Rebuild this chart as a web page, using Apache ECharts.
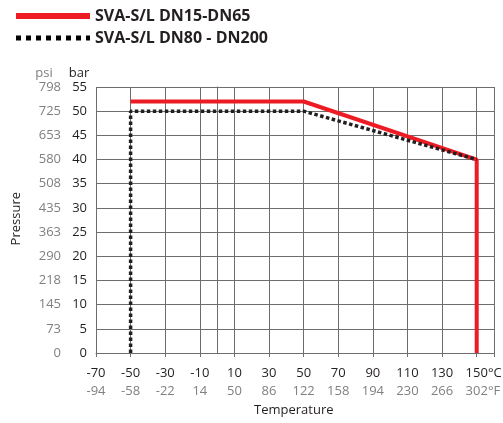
<!DOCTYPE html>
<html>
<head>
<meta charset="utf-8">
<script src="https://cdn.jsdelivr.net/npm/echarts@6/dist/echarts.min.js"></script>
<style>
html,body{margin:0;padding:0;background:#fff;}
#chart{width:503px;height:423px;}
</style>
</head>
<body>
<div id="chart"></div>
<script>
// pressure / temperature rating chart

var seriesNames = ['SVA-S/L DN15-DN65', 'SVA-S/L DN80 - DN200'];

// red line: DN15-DN65
var redTemps = [-50, 50, 150, 150];
var redBar = [52, 52, 40, 0];

// dotted line: DN80 - DN200
var dotTemps = [-50, -50, 50, 150];
var dotBar = [0, 50, 50, 40];

// secondary tick labels
var psiLabels = ['0', '73', '145', '218', '290', '363', '435', '508', '580', '653', '725', '798'];
var fahrLabels = ['-94', '-58', '-22', '14', '50', '86', '122', '158', '194', '230', '266', '302'];

var COLOR = {
	RED: '#ed1c24',
	DOT: '#231f20',
	TEXT: '#231f20',
	GREY: '#808080',
	GRID: '#6d6d6d'
};

var FONT = '"Open Sans", "Noto Sans", sans-serif';

function pairs(xs, ys){
	var out = [];
	for (var i = 0; i < xs.length; i++){
		out.push([xs[i], ys[i]]);
	}
	return out;
}

function unitText(x, y, text, color, align){
	return {
		type: 'text',
		x: x,
		y: y,
		style: { text: text, font: '13px ' + FONT, fill: color, align: align, verticalAlign: 'middle' }
	};
}

var myChart = echarts.init(document.getElementById('chart'));
myChart.setOption({
	animation: false,
	textStyle: { fontFamily: FONT },
	legend: {
		orient: 'vertical',
		left: 13,
		top: 8,
		padding: 0,
		itemWidth: 74,
		itemHeight: 14,
		itemGap: 6,
		textStyle: { fontFamily: FONT, fontWeight: 'bold', fontSize: 16, color: COLOR.TEXT },
		data: [
			{ name: seriesNames[0], itemStyle: { opacity: 0 }, lineStyle: { width: 6, color: COLOR.RED } },
			{ name: seriesNames[1], itemStyle: { opacity: 0 }, lineStyle: { width: 5, color: '#000', type: [5, 5] } }
		]
	},
	grid: {
		left: 96,
		right: 9,
		top: 87,
		bottom: 70,
		outerBoundsMode: 'none'
	},
	xAxis: [
		{
			type: 'value',
			min: -70,
			max: 160,
			interval: 20,
			position: 'bottom',
			axisLine: { show: true, onZero: false, lineStyle: { color: COLOR.GRID } },
			axisTick: { show: true, length: 4, lineStyle: { color: COLOR.GRID } },
			axisLabel: {
				margin: 14,
				fontSize: 13,
				color: COLOR.TEXT,
				formatter: function(v){ return v > 150 ? '' : String(v); }
			},
			splitLine: { show: true, lineStyle: { color: COLOR.GRID } }
		},
		{
			type: 'value',
			min: -70,
			max: 160,
			interval: 20,
			position: 'bottom',
			offset: 18,
			axisLine: { show: false },
			axisTick: { show: false },
			axisLabel: {
				margin: 14,
				fontSize: 13,
				color: COLOR.GREY,
				formatter: function(v){
					var i = Math.round((v + 70) / 20);
					return v > 150 ? '' : (fahrLabels[i] || '');
				}
			},
			splitLine: { show: false }
		}
	],
	yAxis: [
		{
			type: 'value',
			min: 0,
			max: 55,
			interval: 5,
			position: 'left',
			axisLine: { show: true, lineStyle: { color: COLOR.GRID } },
			axisTick: { show: true, length: 4, lineStyle: { color: COLOR.GRID } },
			axisLabel: { margin: 9, fontSize: 13, color: COLOR.TEXT },
			splitLine: { show: true, lineStyle: { color: COLOR.GRID } }
		},
		{
			type: 'value',
			min: 0,
			max: 55,
			interval: 5,
			position: 'left',
			offset: 26,
			axisLine: { show: false },
			axisTick: { show: false },
			axisLabel: {
				margin: 9,
				fontSize: 13,
				color: COLOR.GREY,
				formatter: function(v){ return psiLabels[Math.round(v / 5)] || ''; }
			},
			splitLine: { show: false }
		}
	],
	graphic: [
		{
			type: 'text',
			left: 10,
			top: 192,
			rotation: Math.PI / 2,
			style: { text: 'Pressure', font: '13px ' + FONT, fill: COLOR.TEXT }
		},
		{
			type: 'text',
			left: 254,
			top: 404,
			style: { text: 'Temperature', font: '13px ' + FONT, fill: COLOR.TEXT }
		},
		unitText(44, 73, 'psi', COLOR.GREY, 'center'),
		unitText(79, 73, 'bar', COLOR.TEXT, 'center'),
		unitText(488, 373, '°C', COLOR.TEXT, 'left'),
		unitText(488, 391, '°F', COLOR.GREY, 'left')
	],
	series: [
		{
			name: seriesNames[0],
			type: 'line',
			symbol: 'none',
			lineStyle: { color: COLOR.RED, width: 4 },
			itemStyle: { color: COLOR.RED },
			data: pairs(redTemps, redBar)
		},
		{
			name: seriesNames[1],
			type: 'line',
			symbol: 'none',
			lineStyle: { color: COLOR.DOT, width: 3.5, type: [3.5, 2.5] },
			itemStyle: { color: COLOR.DOT },
			data: pairs(dotTemps, dotBar)
		}
	]
});
</script>
</body>
</html>
